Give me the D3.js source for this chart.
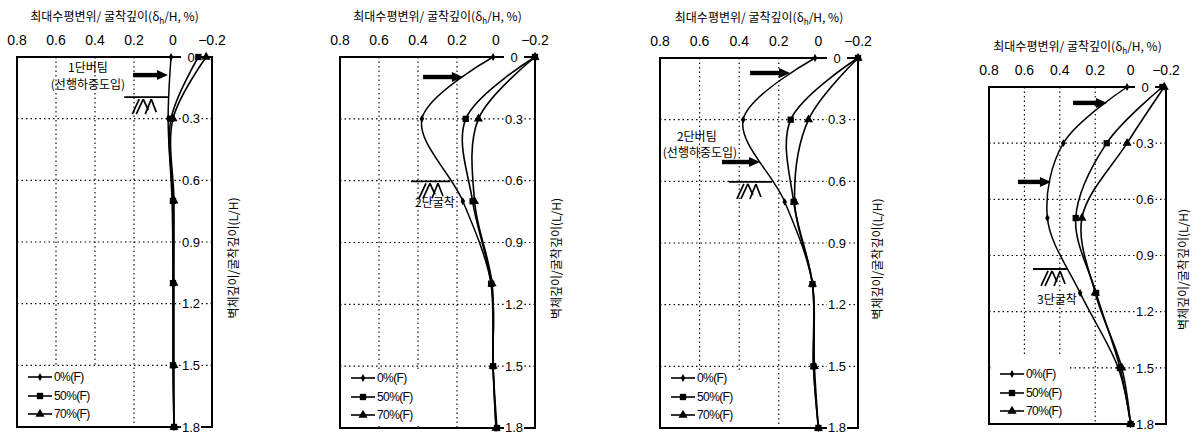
<!DOCTYPE html>
<html>
<head>
<meta charset="utf-8">
<script src="https://cdn.jsdelivr.net/npm/d3@7"></script>
<style>
  html, body { margin: 0; padding: 0; background: #fff; }
  svg { display: block; }
</style>
</head>
<body>
<svg id="chart" width="1193" height="435"></svg>
<script>
// ---------------- DATA ----------------
const depths = [0, 0.3, 0.7, 1.1, 1.5, 1.8];
const xTicks = [0.8, 0.6, 0.4, 0.2, 0, -0.2];
const xTickLabels = ["0.8", "0.6", "0.4", "0.2", "0", "\u22120.2"];
const yTicks = [0, 0.3, 0.6, 0.9, 1.2, 1.5, 1.8];
const yTickLabels = ["0", "0.3", "0.6", "0.9", "1.2", "1.5", "1.8"];
const vGrid = [0.6, 0.4, 0.2];
const hGrid = [0.3, 0.6, 0.9, 1.2, 1.5];
const seriesNames = ["0%(F)", "50%(F)", "70%(F)"];

// panel 1 : 1단버팀
const p1_f0  = [0.01, 0.025, 0.005, 0.0, 0.0, -0.005];
const p1_f50 = [-0.13, 0.01, 0.0, 0.0, 0.0, -0.005];
const p1_f70 = [-0.17, 0.0, -0.005, -0.005, -0.005, -0.005];
// panel 2 : 2단굴착
const p2_f0  = [0.015, 0.38, 0.17, 0.025, 0.015, 0.0];
const p2_f50 = [-0.2, 0.155, 0.12, 0.025, 0.015, -0.005];
const p2_f70 = [-0.2, 0.09, 0.11, 0.02, 0.015, 0.0];
// panel 3 : 2단버팀
const p3_f0  = [0.017, 0.38, 0.17, 0.03, 0.025, 0.0];
const p3_f50 = [-0.2, 0.14, 0.125, 0.03, 0.025, 0.0];
const p3_f70 = [-0.2, 0.05, 0.12, 0.03, 0.02, 0.0];
// panel 4 : 3단굴착
const p4_f0  = [0.02, 0.38, 0.47, 0.285, 0.07, 0.0];
const p4_f50 = [-0.18, 0.135, 0.31, 0.195, 0.06, 0.0];
const p4_f70 = [-0.19, 0.02, 0.275, 0.2, 0.05, 0.0];

const titleMain = "최대수평변위/ 굴착깊이(δ";
const titleSub = "h";
const titleEnd = "/H, %)";
const yTitle = "벽체깊이/굴착깊이(L/H)";

// ---------------- LAYOUT ----------------
const panels = [
  { box: [17, 57, 212, 427], series: [p1_f0, p1_f50, p1_f70], legH: 60, yTitleDx: 22, yTitleDy: 16,
    arrows: [[0.205, 0.026, 0.088]],
    grounds: [[0.25, 0.026, 0.195]],
    texts: [["1단버팀", 0.436, 0.054], ["(선행하중도입)", 0.436, 0.136]] },
  { box: [340, 57, 535, 428], series: [p2_f0, p2_f50, p2_f70], legH: 56, yTitleDx: 22, yTitleDy: 16,
    arrows: [[0.374, 0.17, 0.097]],
    grounds: [[0.436, 0.236, 0.603]],
    texts: [["2단굴착", 0.313, 0.705]] },
  { box: [660, 58, 858, 428], series: [p3_f0, p3_f50, p3_f70], legH: 56, yTitleDx: 20, yTitleDy: 16,
    arrows: [[0.345, 0.143, 0.073], [0.487, 0.295, 0.506]],
    grounds: [[0.452, 0.234, 0.603]],
    texts: [["2단버팀", 0.614, 0.384], ["(선행하중도입)", 0.598, 0.462]] },
  { box: [989, 87, 1166, 424], series: [p4_f0, p4_f50, p4_f70], legH: 70, yTitleDx: 18, yTitleDy: 14,
    arrows: [[0.325, 0.133, 0.085], [0.636, 0.45, 0.507]],
    grounds: [[0.551, 0.36, 0.972]],
    texts: [["3단굴착", 0.416, 1.138]] }
];

const symbols = [
  d3.symbol().type(d3.symbolDiamond).size(18),
  d3.symbol().type(d3.symbolSquare).size(40),
  d3.symbol().type(d3.symbolTriangle).size(36)
];

const korFont = "'Noto Sans CJK KR', 'Noto Sans', sans-serif";
const numFont = "'Liberation Sans', Arial, sans-serif";

const svg = d3.select("#chart");

panels.forEach(p => {
  const [L, T, R, B] = p.box;
  const x = d3.scaleLinear().domain([0.8, -0.2]).range([L, R]);
  const y = d3.scaleLinear().domain([0, 1.8]).range([T, B]);
  const g = svg.append("g");

  // grid
  g.selectAll(".vg").data(vGrid).enter().append("line")
    .attr("x1", d => x(d)).attr("x2", d => x(d)).attr("y1", T).attr("y2", B)
    .attr("stroke", "#000").attr("stroke-width", 1.1).attr("stroke-dasharray", "1.5,3");
  g.selectAll(".hg").data(hGrid).enter().append("line")
    .attr("x1", L).attr("x2", R).attr("y1", d => y(d)).attr("y2", d => y(d))
    .attr("stroke", "#000").attr("stroke-width", 1.1).attr("stroke-dasharray", "1.5,3");

  // legend background (covers grid)
  g.append("rect").attr("x", L + 2).attr("y", B - p.legH).attr("width", 78).attr("height", p.legH - 2)
    .attr("fill", "#fff");

  // frame
  g.append("rect").attr("x", L).attr("y", T).attr("width", R - L).attr("height", B - T)
    .attr("fill", "none").attr("stroke", "#000").attr("stroke-width", 2);

  // y tick labels (inside, right)
  const yl = g.selectAll(".yl").data(yTicks).enter().append("g")
    .attr("transform", d => `translate(${R - 21},${Math.min(y(d), 427)})`);
  yl.append("rect").attr("x", -10).attr("y", -6).attr("width", 20).attr("height", 12).attr("fill", "#fff");
  yl.append("text").attr("text-anchor", "middle").attr("dy", "0.36em")
    .attr("font-family", numFont).attr("font-size", 13).text((d, i) => yTickLabels[i]);

  // x tick labels (top)
  g.selectAll(".xl").data(xTicks).enter().append("text")
    .attr("x", d => x(d)).attr("y", T - 12).attr("text-anchor", "middle")
    .attr("font-family", numFont).attr("font-size", 14).text((d, i) => xTickLabels[i]);

  // title
  const tt = g.append("text").attr("x", (L + R) / 2).attr("y", T - 36).attr("text-anchor", "middle")
    .attr("font-family", korFont).attr("font-size", 12);
  tt.append("tspan").text(titleMain);
  tt.append("tspan").attr("font-size", 8).attr("dy", 3).text(titleSub);
  tt.append("tspan").attr("dy", -3).text(titleEnd);

  // y title (right, rotated)
  g.append("text").attr("transform", `translate(${R + p.yTitleDx},${(T + B) / 2 + p.yTitleDy}) rotate(-90)`)
    .attr("text-anchor", "middle").attr("dy", "0.35em")
    .attr("font-family", korFont).attr("font-size", 12).text(yTitle);

  // data lines
  const line = d3.line().x(d => x(d[0])).y(d => y(d[1])).curve(d3.curveCatmullRom.alpha(0.5));
  p.series.forEach((vals, si) => {
    const pts = vals.map((v, i) => [v, depths[i]]);
    g.append("path").attr("d", line(pts)).attr("fill", "none")
      .attr("stroke", "#000").attr("stroke-width", si === 0 ? 1.5 : 1.6);
    g.selectAll(".m" + si).data(pts).enter().append("path")
      .attr("d", symbols[si]).attr("transform", d => `translate(${x(d[0])},${y(d[1])})`)
      .attr("fill", "#000");
  });

  // arrows
  p.arrows.forEach(a => {
    const x1 = x(a[0]), x2 = x(a[1]), yy = y(a[2]);
    g.append("rect").attr("x", x1).attr("y", yy - 2.2).attr("width", x2 - x1 - 9).attr("height", 4.4).attr("fill", "#000");
    g.append("path").attr("d", `M${x2 - 11},${yy - 5}L${x2},${yy}L${x2 - 11},${yy + 5}Z`).attr("fill", "#000");
  });

  // ground symbols
  p.grounds.forEach(gr => {
    const x1 = x(gr[0]), x2 = x(gr[1]), yy = y(gr[2]);
    g.append("line").attr("x1", x1).attr("x2", x2).attr("y1", yy).attr("y2", yy)
      .attr("stroke", "#000").attr("stroke-width", 1.8);
    const hatch = [[8, 17, 15, 2], [12, 17, 19, 2], [19, 2, 24, 13], [21, 17, 27, 2], [27, 2, 32, 15]];
    hatch.forEach(h => {
      g.append("line").attr("x1", x1 + h[0]).attr("y1", yy + h[1]).attr("x2", x1 + h[2]).attr("y2", yy + h[3])
        .attr("stroke", "#000").attr("stroke-width", 1.7);
    });
  });

  // annotation texts
  p.texts.forEach(t => {
    g.append("text").attr("x", x(t[1])).attr("y", y(t[2])).attr("dy", "0.35em").attr("text-anchor", "middle")
      .attr("font-family", korFont).attr("font-size", 12).text(t[0]);
  });

  // legend
  const legOff = [-50, -31, -13];
  seriesNames.forEach((nm, si) => {
    const ly = B + legOff[si];
    g.append("line").attr("x1", L + 11).attr("x2", L + 35).attr("y1", ly).attr("y2", ly)
      .attr("stroke", "#000").attr("stroke-width", 1.6);
    g.append("path").attr("d", symbols[si]).attr("transform", `translate(${L + 23},${ly})`).attr("fill", "#000");
    g.append("text").attr("x", L + 37).attr("y", ly).attr("dy", "0.36em")
      .attr("font-family", numFont).attr("font-size", 12).attr("letter-spacing", -0.6).text(nm);
  });
});
</script>
</body>
</html>
